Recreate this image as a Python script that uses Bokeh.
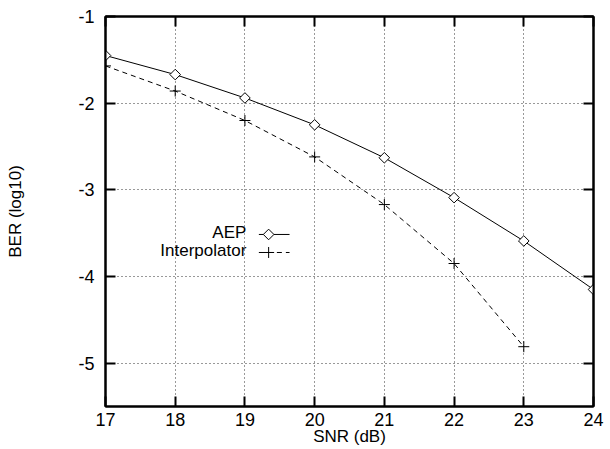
import numpy as np
from bokeh.plotting import figure
from bokeh.models import (Range1d, FixedTicker, LinearAxis, Label, CustomJSTickFormatter)
from bokeh.embed import file_html
from bokeh.resources import INLINE

snr_aep = [17, 18, 19, 20, 21, 22, 23, 24]
ber_aep = [-1.45, -1.67, -1.94, -2.25, -2.63, -3.09, -3.59, -4.15]
snr_int = [17, 18, 19, 20, 21, 22, 23]
ber_int = [-1.57, -1.86, -2.20, -2.62, -3.17, -3.85, -4.81]
x_ticks = [17, 18, 19, 20, 21, 22, 23, 24]
y_ticks = [-1, -2, -3, -4, -5]
series_names = ["AEP", "Interpolator"]

FONT = "Liberation Sans"
TICK_FS = "18px"
FS = "17px"

# legend layout (data units, decoration only)
LEG_X0, LEG_X1, LEG_XM, LEG_TX = 19.20, 19.64, 19.34, 19.02
LEG_Y = [-3.515, -3.723]

p = figure(width=610, height=449, output_backend="svg", toolbar_location=None,
           x_range=Range1d(17, 24), y_range=Range1d(-5.5, -1),
           min_border_left=105, min_border_right=17, min_border_top=16, min_border_bottom=43)
p.background_fill_color = "white"
p.border_fill_color = "white"
p.outline_line_color = "black"
p.outline_line_width = 2

fmt = CustomJSTickFormatter(code="return String(tick);")
for ax in (p.xaxis[0], p.yaxis[0]):
    ax.formatter = fmt
    ax.major_tick_in = 10
    ax.major_tick_out = 0
    ax.minor_tick_in = 0
    ax.minor_tick_out = 0
    ax.axis_line_color = "black"
    ax.axis_line_width = 2
    ax.major_tick_line_width = 2
    ax.major_label_text_font = FONT
    ax.major_label_text_font_size = TICK_FS
    ax.major_label_text_color = "black"
    ax.axis_label_text_font = FONT
    ax.axis_label_text_font_size = FS
    ax.axis_label_text_font_style = "normal"
    ax.axis_label_text_color = "black"

p.xaxis[0].ticker = FixedTicker(ticks=x_ticks)
p.yaxis[0].ticker = FixedTicker(ticks=y_ticks)
p.xaxis[0].axis_label = "SNR (dB)"
p.yaxis[0].axis_label = "BER (log10)"
p.xaxis[0].major_label_standoff = 6
p.xaxis[0].axis_label_standoff = -2
p.yaxis[0].major_label_standoff = 11
p.yaxis[0].axis_label_standoff = 50

for loc, tk in (("right", y_ticks), ("above", x_ticks)):
    ax = LinearAxis(ticker=FixedTicker(ticks=tk),
                    formatter=CustomJSTickFormatter(code="return '';"),
                    major_label_text_color=None, major_label_standoff=0,
                    major_tick_in=10, major_tick_out=0, minor_tick_in=0, minor_tick_out=0,
                    axis_line_width=2, major_tick_line_width=2)
    p.add_layout(ax, loc)

p.xgrid.ticker = FixedTicker(ticks=x_ticks)
p.ygrid.ticker = FixedTicker(ticks=y_ticks)
for g in (p.xgrid[0], p.ygrid[0]):
    g.grid_line_color = "black"
    g.grid_line_dash = "1 3"
    g.grid_line_width = 1
    g.grid_line_alpha = 0.8

p.line(snr_aep, ber_aep, line_color="black", line_width=1)
p.scatter(snr_aep, ber_aep, marker="square", angle=np.pi / 4, size=7.5,
          fill_color="white", line_color="black", line_width=1)
p.line(snr_int, ber_int, line_color="black", line_width=1, line_dash="5 4")
p.scatter(snr_int, ber_int, marker="cross", size=11, line_color="black", line_width=1)

# legend (text left of sample, as in reference)
p.line([LEG_X0, LEG_X1], [LEG_Y[0], LEG_Y[0]], line_color="black", line_width=1)
p.scatter([LEG_XM], [LEG_Y[0]], marker="square", angle=np.pi / 4, size=7.5,
          fill_color="white", line_color="black", line_width=1)
p.line([LEG_X0, LEG_X1], [LEG_Y[1], LEG_Y[1]], line_color="black", line_width=1, line_dash="5 4")
p.scatter([LEG_XM], [LEG_Y[1]], marker="cross", size=11, line_color="black", line_width=1)
for txt, yy in zip(series_names, LEG_Y):
    p.add_layout(Label(x=LEG_TX, y=yy + 0.02, text=txt, text_align="right", text_baseline="middle",
                       text_font=FONT, text_font_size=FS, text_color="black"))

open("out.html", "w").write(file_html(p, INLINE))
